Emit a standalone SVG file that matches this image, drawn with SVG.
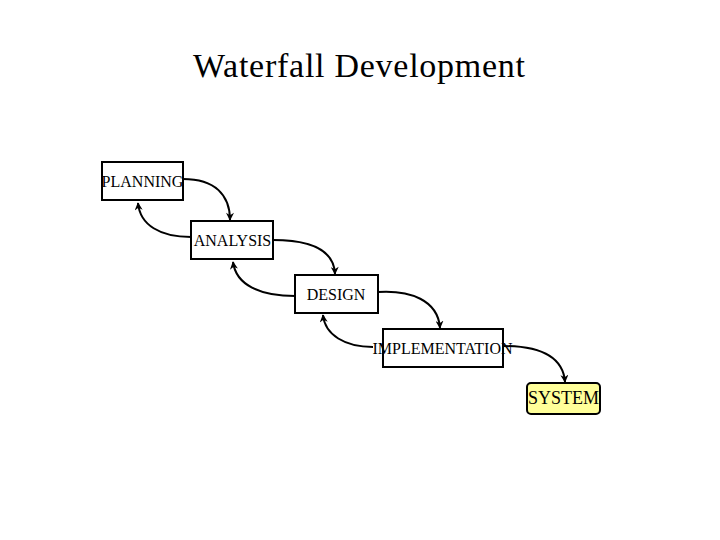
<svg xmlns="http://www.w3.org/2000/svg" width="720" height="540" viewBox="0 0 720 540">
<style>
.box{fill:#fff;stroke:#000;stroke-width:2}
.sys{fill:#ffff99;stroke:#000;stroke-width:2}
.lbl{font-family:"Liberation Serif","Times New Roman",serif;font-size:16px;fill:#000;text-anchor:middle}
.title{font-family:"Liberation Serif","Times New Roman",serif;font-size:34px;fill:#000;text-anchor:middle}
.conn{fill:none;stroke:#000;stroke-width:2;marker-end:url(#ah)}
</style>
<defs>
<marker id="ah" viewBox="0 0 10 10" refX="9" refY="5" markerWidth="10" markerHeight="8" orient="auto" markerUnits="userSpaceOnUse">
<path d="M0,0 L10,5 L0,10 L3,5 Z" fill="#000"/>
</marker>
</defs>
<rect width="720" height="540" fill="#fff"/>
<text class="title" x="359" y="77" textLength="332" lengthAdjust="spacing">Waterfall Development</text>
<g id="connectors">
<path class="conn" d="M183,179 C215,179 230,195 230,220"/>
<path class="conn" d="M191,237 C160,237 140,225 138,203"/>
<path class="conn" d="M273,240 C310,240 334,250 335,274"/>
<path class="conn" d="M295,296 C260,296 236,285 233,262"/>
<path class="conn" d="M378,292 C410,290 438,300 440,328"/>
<path class="conn" d="M373,347 C345,347 325,335 323,315"/>
<path class="conn" d="M503,346 C540,346 563,356 565,382"/>
</g>
<g id="planning">
<rect class="box" x="102" y="162" width="81" height="38"/>
<text class="lbl" x="142.5" y="186.5">PLANNING</text>
</g>
<g id="analysis">
<rect class="box" x="191" y="221" width="82" height="38"/>
<text class="lbl" x="232.5" y="246">ANALYSIS</text>
</g>
<g id="design">
<rect class="box" x="295" y="275" width="83" height="38"/>
<text class="lbl" x="336" y="299.5">DESIGN</text>
</g>
<g id="implementation">
<rect class="box" x="383" y="329" width="120" height="38"/>
<text class="lbl" x="442.5" y="354">IMPLEMENTATION</text>
</g>
<g id="system">
<rect class="sys" x="527" y="383" width="73" height="31" rx="4"/>
<text class="lbl" x="563.5" y="404" style="font-size:18px">SYSTEM</text>
</g>
</svg>
